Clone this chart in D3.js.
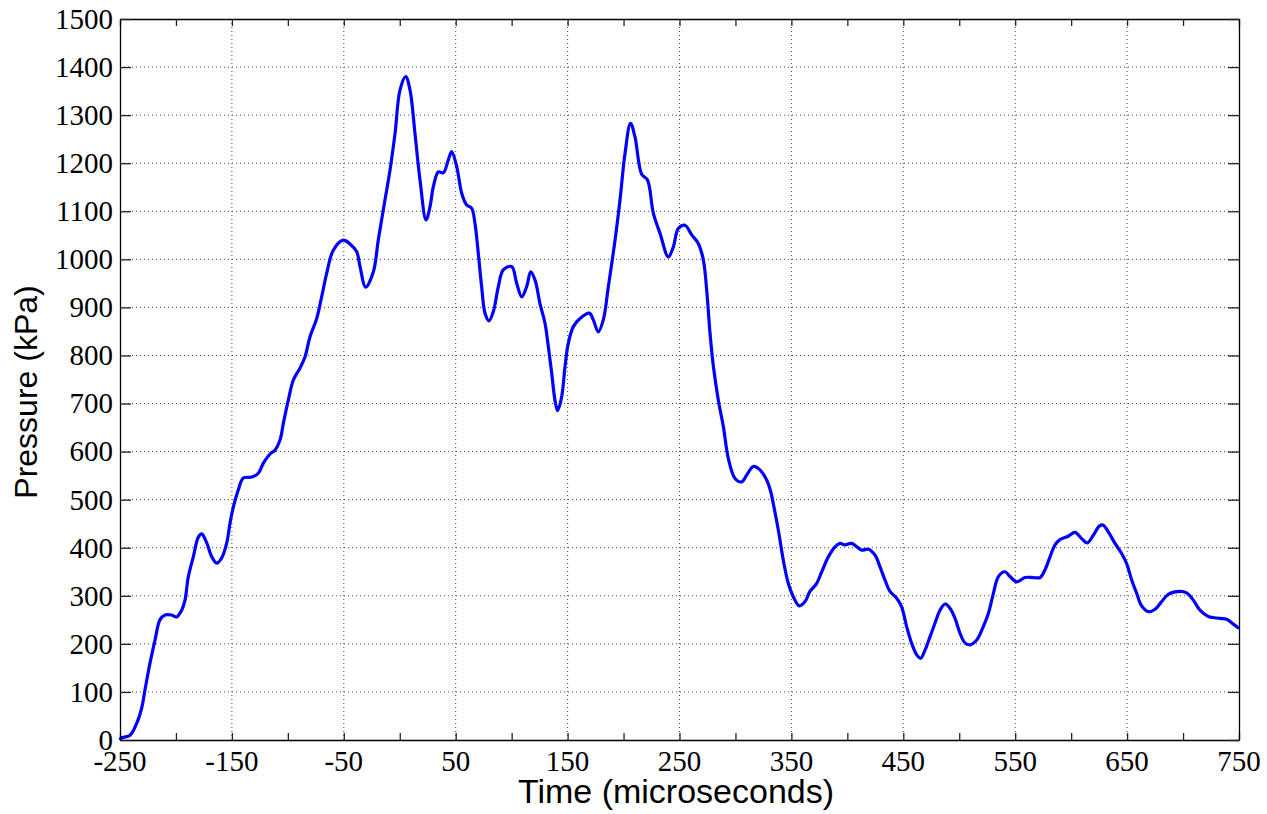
<!DOCTYPE html>
<html>
<head>
<meta charset="utf-8">
<script src="https://cdn.jsdelivr.net/npm/d3@7"></script>
<style>
  body { margin: 0; background: #fff; }
</style>
</head>
<body>
<script>
// time in microseconds, pressure in kPa
var time = [
  -250, -249, -241, -235, -230.6, -227.7, -223.2, -218.7, -214.3, -209.8, -203.8, -199.3, -194.9, -191.9,
  -189, -184.5, -180, -177, -172.5, -168, -163.6, -159.1, -154.6, -151.7, -148.7, -144.3, -139.8,
  -132.3, -126.4, -121.9, -115.9, -111.5, -107, -104, -99.6, -95.1, -89.1, -84.7, -80.2, -74.2,
  -69.8, -65.3, -59.4, -50.4, -44.5, -38.5, -35.5, -30.4, -23.6, -19.2, -14.7, -8.7, -4.2, 0.2,
  5.3, 9.2, 13.6, 18.1, 23.5, 27, 30, 34.5, 38.9, 43.4, 46.4, 50.9, 55.4, 59.8, 64.3, 67.2, 70.2,
  73.2, 76.2, 79.8, 83.6, 88.1, 92.5, 100, 104.5, 109, 113.4, 117, 120.9, 125.3, 129.8, 132.8,
  135.8, 138.7, 141.1, 144.7, 147.7, 150.6, 155.1, 161.1, 169.4, 173, 177.4, 181.9, 186.4, 192.4,
  196.8, 201.3, 206.2, 210.2, 216.2, 221.4, 226.6, 232.6, 240, 244.5, 248.9, 254.9, 260.9, 266.8,
  271.3, 274.3, 277.3, 280.3, 284.7, 289.2, 293.6, 299.6, 305.6, 310, 316, 321.9, 327.9, 331.5,
  333.8, 338.3, 342.8, 347.2, 351.7, 357, 362.2, 366.6, 372.6, 377.1, 383, 389, 393.4, 397.9,
  403.9, 408.4, 412.8, 418.7, 424.7, 429.2, 433.6, 438.1, 444.1, 448.5, 453, 457.5, 462, 465.5,
  469.4, 473.9, 478.3, 482.8, 487.3, 491.7, 496.2, 500.7, 505.1, 509.6, 515.6, 521.5, 526, 530.5,
  535, 540.9, 545.4, 551.3, 558.8, 566.2, 572.2, 576.6, 581.1, 585.6, 590, 597.5, 603.4, 609.4,
  614.4, 619.8, 625.2, 628.7, 633.2, 639.2, 645.1, 649.6, 654.1, 658.6, 663, 669, 675, 680.9,
  686.8, 697.3, 703.2, 709.2, 715.1, 722.6, 733.1, 739, 744.9, 750
];
var pressure = [
  0, 4, 10, 35, 67, 104, 160, 208, 250, 260, 260, 256, 270, 291,
  339, 381, 422, 429, 410, 381, 368, 379, 410, 451, 485, 520, 545,
  547, 555, 576, 595, 603, 624, 659, 707, 749, 774, 797, 839, 877,
  922, 971, 1019, 1040, 1032, 1016, 985, 942, 974, 1040, 1103, 1186, 1262, 1352,
  1380, 1352, 1262, 1165, 1082, 1109, 1151, 1182, 1180, 1207, 1224, 1193, 1137, 1113, 1106, 1075, 1012,
  943, 888, 872, 891, 943, 978, 985, 950, 922, 943, 974, 957, 908, 867, 818,
  763, 707, 685, 714, 777, 825, 860, 877, 888, 874, 849, 874, 943, 1040,
  1123, 1220, 1283, 1255, 1177, 1165, 1096, 1054, 1005, 1026, 1064, 1071, 1051, 1033,
  999, 936, 846, 777, 707, 652, 586, 544, 537, 551, 569, 562, 541, 517,
  492, 437, 374, 326, 298, 279, 288, 309, 326, 350, 381, 402, 409, 406,
  409, 402, 395, 397, 385, 360, 333, 309, 295, 277, 236, 201, 177, 170,
  187, 215, 243, 270, 283, 274, 253, 222, 202, 198, 208, 236, 263, 305,
  340, 350, 340, 329, 338, 338, 338, 354, 381, 406, 417, 424, 432, 419,
  410, 426, 445, 447, 433, 409, 388, 367, 333, 305, 279, 267, 272, 288,
  303, 309, 306, 291, 270, 257, 253, 251, 241, 232
];

var xLabelTicks = [-250, -150, -50, 50, 150, 250, 350, 450, 550, 650, 750];
var xMinorTicks = [-200, -100, 0, 100, 200, 300, 400, 500, 600, 700];
var yTicks = d3.range(0, 1501, 100);

var W = 1267, H = 814;
var margin = { left: 120, right: 28, top: 19, bottom: 74 };
var w = W - margin.left - margin.right;
var h = H - margin.top - margin.bottom;

var svg = d3.select("body").append("svg")
    .attr("width", W)
    .attr("height", H)
    .style("background", "#fff");

var x = d3.scaleLinear().domain([-250, 750]).range([0, w]);
var y = d3.scaleLinear().domain([0, 1500]).range([h, 0]);

var g = svg.append("g")
    .attr("transform", "translate(" + margin.left + "," + margin.top + ")");

// dotted grid
g.append("g").selectAll("line.gx")
    .data(xLabelTicks.filter(function(d) { return d > -250 && d < 750; }))
    .enter().append("line")
    .attr("x1", function(d) { return x(d); })
    .attr("x2", function(d) { return x(d); })
    .attr("y1", 0).attr("y2", h)
    .attr("stroke", "#444").attr("stroke-width", 1)
    .attr("stroke-dasharray", "1,3");

g.append("g").selectAll("line.gy")
    .data(yTicks.filter(function(d) { return d > 0 && d < 1500; }))
    .enter().append("line")
    .attr("x1", 0).attr("x2", w)
    .attr("y1", function(d) { return y(d); })
    .attr("y2", function(d) { return y(d); })
    .attr("stroke", "#444").attr("stroke-width", 1)
    .attr("stroke-dasharray", "1,3");

// data line
var line = d3.line()
    .x(function(d, i) { return x(time[i]); })
    .y(function(d) { return y(d); })
    .curve(d3.curveCatmullRom);

g.append("path")
    .datum(pressure)
    .attr("fill", "none")
    .attr("stroke", "#0000ff")
    .attr("stroke-width", 3.2)
    .attr("stroke-linejoin", "round")
    .attr("d", line);

// axes with inward ticks on all four sides
var allX = xLabelTicks.concat(xMinorTicks);

g.append("g")
    .attr("transform", "translate(0," + h + ")")
    .call(d3.axisBottom(x).tickValues(allX).tickSizeInner(-7).tickSizeOuter(0).tickFormat(""));
g.append("g")
    .call(d3.axisTop(x).tickValues(allX).tickSizeInner(-7).tickSizeOuter(0).tickFormat(""));
g.append("g")
    .call(d3.axisLeft(y).tickValues(yTicks).tickSizeInner(-11).tickSizeOuter(0).tickFormat(""));
g.append("g")
    .attr("transform", "translate(" + w + ",0)")
    .call(d3.axisRight(y).tickValues(yTicks).tickSizeInner(-11).tickSizeOuter(0).tickFormat(""));

g.selectAll(".domain").attr("stroke", "#000").attr("stroke-width", 1.3);
g.selectAll(".tick line").attr("stroke", "#222").attr("stroke-width", 1.3);

// tick labels
g.append("g").selectAll("text")
    .data(xLabelTicks)
    .enter().append("text")
    .attr("x", function(d) { return x(d); })
    .attr("y", h + 31)
    .attr("text-anchor", "middle")
    .style("font-family", "'Liberation Serif', 'Times New Roman', serif")
    .style("font-size", "29px")
    .text(function(d) { return d; });

g.append("g").selectAll("text")
    .data(yTicks)
    .enter().append("text")
    .attr("x", -7)
    .attr("y", function(d) { return y(d); })
    .attr("dy", "0.34em")
    .attr("text-anchor", "end")
    .style("font-family", "'Liberation Serif', 'Times New Roman', serif")
    .style("font-size", "29px")
    .text(function(d) { return d; });

// axis titles
svg.append("text")
    .attr("x", 676)
    .attr("y", 803)
    .attr("text-anchor", "middle")
    .style("font-family", "'Liberation Sans', Arial, sans-serif")
    .style("font-size", "34px")
    .text("Time (microseconds)");

svg.append("text")
    .attr("transform", "translate(37,392) rotate(-90)")
    .attr("text-anchor", "middle")
    .style("font-family", "'Liberation Sans', Arial, sans-serif")
    .style("font-size", "32px")
    .text("Pressure (kPa)");
</script>
</body>
</html>
